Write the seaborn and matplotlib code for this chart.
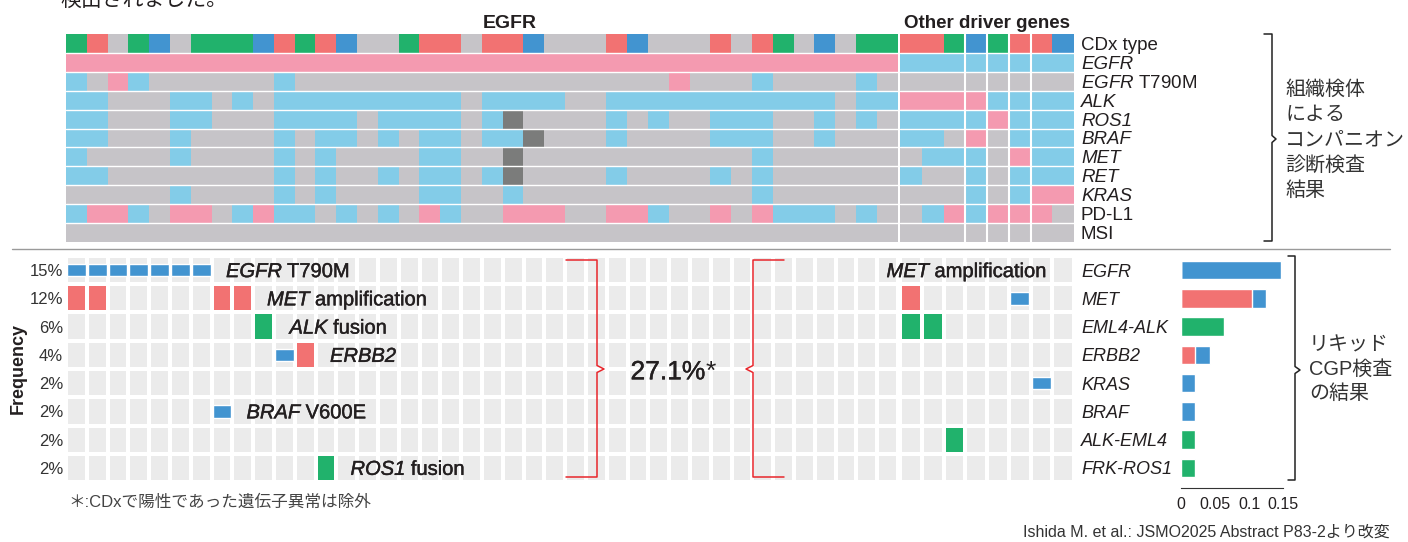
import numpy as np
import pandas as pd
import matplotlib.pyplot as plt
import seaborn as sns
from matplotlib.colors import ListedColormap
from matplotlib.lines import Line2D
import matplotlib.patheffects as pe

# 組織検体によるCDx結果 (1文字 = 1症例)
# G/R/B = CDx type, p = 陽性, b = 陰性, g = 未実施, d = 判定不能
cdx_rows = ['CDx type', 'EGFR', 'EGFR T790M', 'ALK', 'ROS1', 'BRAF',
            'MET', 'RET', 'KRAS', 'PD-L1', 'MSI']
cdx_egfr = [
    'GRgGBgGGGBRGRBggGRRg' + 'RRBgggRBgggRgRGgBgGG',
    'pppppppppppppppppppp' + 'pppppppppppppppppppp',
    'bgpbggggggbggggggggg' + 'gggggggggpgggbggggbg',
    'bbgggbbgbgbbbbbbbbbg' + 'bbbbggbbbbbbbbbbbgbb',
    'bbgggbbgggbbbbgbbbbg' + 'bdggggbgbggbbbggbgbg',
    'bbgggbggggbgbbgbgbbg' + 'bbdgggbggggbbbggbggg',
    'bggggbggggbgbggggbbg' + 'gdgggggggggggbgggggg',
    'bbggggggggbgbggbgbbg' + 'bdggggbggggbgbgggggg',
    'gggggbggggbgbggggbbg' + 'gbgggggggggggbgggggg',
    'bppbgppgbpbbgbgbgpbg' + 'gpppggppbggpgpbbbgbg',
    'gggggggggggggggggggg' + 'gggggggggggggggggggg',
]
cdx_other = ['RRGBGRRB', 'bbbbbbbb', 'gggggggg', 'ppppbbbb', 'bbbbpbbb',
             'bbgpgbbb', 'gbbbgpbb', 'bggbgbbb', 'gggbgbpp', 'gbpbpppg',
             'gggggggg']

# リキッドCGP検査の結果: R = 増幅, G = 融合, B = 変異, . = なし
cgp_genes = ['EGFR', 'MET', 'EML4-ALK', 'ERBB2', 'KRAS', 'BRAF',
             'ALK-EML4', 'FRK-ROS1']
cgp_freq = ['15%', '12%', '6%', '4%', '2%', '2%', '2%', '2%']
cgp_egfr = ['BBBBBBB', 'RR.....RR', '.........G', '..........BR', '',
            '.......B', '', '............G']
cgp_other = ['', 'R....B', 'GG', '', '......B', '', '..G', '']

amp = [0, 0.104, 0, 0.021, 0, 0, 0, 0]
mut = [0.146, 0.021, 0, 0.021, 0.021, 0.021, 0, 0]
fus = [0, 0, 0.063, 0, 0, 0, 0.021, 0.021]

GREEN, RED, BLUE = '#21b26c', '#f27272', '#4294d0'
GRAY, PINK, LBLUE, DGRAY = '#c6c4c8', '#f49ab0', '#83cce8', '#7b7c7b'
BG, TXT = '#ebebeb', '#231f20'

sns.set_style('white')
plt.rcParams['font.family'] = ['Liberation Sans', 'Noto Sans CJK JP']
plt.rcParams['mathtext.fontset'] = 'custom'
plt.rcParams['mathtext.rm'] = 'Liberation Sans'
plt.rcParams['mathtext.it'] = 'Liberation Sans:italic'

W, H = 1408, 542
fig = plt.figure(figsize=(W / 100, H / 100), dpi=100)


def px_axes(x0, y0, x1, y1):
    return fig.add_axes([x0 / W, 1 - y1 / H, (x1 - x0) / W, (y1 - y0) / H])


def px_line(xs, ys, color, lw=1.1):
    fig.add_artist(Line2D([x / W for x in xs], [1 - y / H for y in ys],
                          transform=fig.transFigure, color=color, lw=lw))


def rich_text(x, y, parts, size, color=TXT):
    # 斜体と立体を並べて描く (x, y はピクセル, y はベースライン)
    r = fig.canvas.get_renderer()
    for s, style, thick in parts:
        t = fig.text(x / W, 1 - y / H, s, fontsize=size, fontstyle=style,
                     color=color, ha='left', va='baseline')
        if thick:
            t.set_path_effects([pe.withStroke(linewidth=0.3, foreground=color)])
        x = t.get_window_extent(r).x1


# ---- 上段: CDx ヒートマップ ----
top_code = {'g': 0, 'p': 1, 'b': 2, 'd': 3, 'G': 4, 'R': 5, 'B': 6}
top_cmap = ListedColormap([GRAY, PINK, LBLUE, DGRAY, GREEN, RED, BLUE])

ax_te = px_axes(66, 34, 897.5, 242)
ax_to = px_axes(900, 34, 1074, 242)
for ax, rows in ((ax_te, cdx_egfr), (ax_to, cdx_other)):
    df = pd.DataFrame([[top_code[c] for c in r] for r in rows])
    sns.heatmap(df, cmap=top_cmap, vmin=-0.5, vmax=6.5, cbar=False,
                xticklabels=False, yticklabels=False, ax=ax)
    for y in range(1, len(rows)):
        ax.axhline(y, color='white', lw=1.0)
for x in (3, 4, 5, 6):
    ax_to.axvline(x, color='white', lw=1.5)

ax_to.yaxis.tick_right()
ax_to.set_yticks(np.arange(len(cdx_rows)) + 0.5)
ax_to.set_yticklabels([r'$\mathit{EGFR}$ T790M' if n == 'EGFR T790M' else n
                       for n in cdx_rows], rotation=0, fontsize=13.5, color=TXT)
for t, n in zip(ax_to.get_yticklabels(), cdx_rows):
    if n not in ('CDx type', 'PD-L1', 'MSI', 'EGFR T790M'):
        t.set_fontstyle('italic')
ax_to.tick_params(axis='y', length=0, pad=5)

fig.text(510 / W, 1 - 28.3 / H, 'EGFR', fontsize=14, fontweight='bold',
         color=TXT, ha='center', va='baseline')
fig.text(987 / W, 1 - 28.3 / H, 'Other driver genes', fontsize=13.5,
         fontweight='bold', color=TXT, ha='center', va='baseline')

# ---- 下段: リキッドCGP ----
bot_code = {'.': 0, 'B': 0, 'R': 1, 'G': 2}
bot_cmap = ListedColormap([BG, RED, GREEN])

ax_be = px_axes(66, 256, 898, 482)
ax_bo = px_axes(900, 256, 1074, 482)
for ax, rows, n in ((ax_be, cgp_egfr, 40), (ax_bo, cgp_other, 8)):
    rows = [r.ljust(n, '.') for r in rows]
    df = pd.DataFrame([[bot_code[c] for c in r] for r in rows])
    sns.heatmap(df, cmap=bot_cmap, vmin=-0.5, vmax=2.5, cbar=False,
                linewidths=1.5, linecolor='white',
                xticklabels=False, yticklabels=False, ax=ax)
    xs = [j + 0.5 for r in rows for j, c in enumerate(r) if c == 'B']
    ys = [i + 0.5 for i, r in enumerate(rows) for c in r if c == 'B']
    h = 0.44
    ax.bar(xs, h, bottom=np.array(ys) - h / 2, width=0.9, color=BLUE, zorder=3)

ax_be.set_yticks(np.arange(len(cgp_freq)) + 0.5)
ax_be.set_yticklabels(cgp_freq, rotation=0, fontsize=12, color='#333333')
ax_be.tick_params(axis='y', length=0, pad=2)
fig.text(18 / W, 1 - 369 / H, 'Frequency', rotation=90, fontsize=13,
         fontweight='bold', color=TXT, ha='center', va='center')

# 棒グラフ
ax_bar = px_axes(1181, 256, 1181 + 0.16 * 682, 482)
sns.barplot(x=np.add(amp, mut), y=cgp_genes, color=BLUE, saturation=1,
            width=0.65, errorbar=None, ax=ax_bar)
sns.barplot(x=amp, y=cgp_genes, color=RED, saturation=1,
            width=0.65, errorbar=None, ax=ax_bar)
sns.barplot(x=fus, y=cgp_genes, color=GREEN, saturation=1,
            width=0.65, errorbar=None, ax=ax_bar)
ax_bar.set_xlim(0, 0.16)
ax_bar.set_ylim(7.5, -0.5)
ax_bar.set_xlabel('')
ax_bar.set_ylabel('')
sns.despine(ax=ax_bar, left=True)
ax_bar.spines['bottom'].set_bounds(0, 0.15)
ax_bar.spines['bottom'].set_position(('outward', 4.5))
ax_bar.spines['bottom'].set_color('#333333')
ax_bar.spines['bottom'].set_linewidth(0.8)
ax_bar.set_xticks([0, 0.05, 0.1, 0.15])
ax_bar.set_xticklabels(['0', '0.05', '0.1', '0.15'])
ax_bar.tick_params(axis='x', length=3.6, width=0.8, color='#333333',
                   labelsize=11.5, pad=3, labelcolor=TXT)
ax_bar.tick_params(axis='y', length=0, pad=72)
for t in ax_bar.get_yticklabels():
    t.set_ha('left')
    t.set_fontstyle('italic')
    t.set_fontsize(13)
    t.set_color(TXT)

# 注釈
row_y = [256 + 14.1 + 28.25 * i for i in range(8)]
for x, i, it, rest in [(226, 0, 'EGFR', ' T790M'), (267, 1, 'MET', ' amplification'),
                       (289.5, 2, 'ALK', ' fusion'), (330, 3, 'ERBB2', ''),
                       (246.5, 5, 'BRAF', ' V600E'), (350.5, 7, 'ROS1', ' fusion'),
                       (886.5, 0, 'MET', ' amplification')]:
    rich_text(x, row_y[i] + 7, [(it, 'italic', True), (rest, 'normal', True)], 14.5)
rich_text(630.5, 379.3, [('27.1%', 'normal', True), ('*', 'normal', False)], 19)

# 括弧
RB = '#e8262c'
px_line([566, 597, 597, 604, 597, 597, 566], [260, 260, 365.5, 369, 372.5, 477, 477], RB)
px_line([784, 753, 753, 746, 753, 753, 784], [260, 260, 365.5, 369, 372.5, 477, 477], RB)
px_line([1264, 1272, 1272, 1276, 1272, 1272, 1264], [34, 34, 135.5, 139, 142.5, 241, 241], '#222222')
px_line([1288, 1295, 1295, 1300, 1295, 1295, 1288], [256, 256, 366.5, 370, 373.5, 480, 480], '#222222')
px_line([12, 1390], [248.5, 248.5], '#9a9a9a', lw=1.0)

fig.text(1285 / W, 1 - 140 / H, '組織検体\nによる\nコンパニオン\n診断検査\n結果',
         fontsize=14.4, color='#333333', ha='left', va='center', linespacing=1.42)
fig.text(1309 / W, 1 - 369 / H, 'リキッド\nCGP検査\nの結果',
         fontsize=14.4, color='#333333', ha='left', va='center', linespacing=1.35)

fig.text(60 / W, 1 - 6 / H, '検出されました。', fontsize=15, color=TXT,
         ha='left', va='baseline')
fig.text(68 / W, 1 - 502 / H, '＊:CDxで陽性であった遺伝子異常は除外', fontsize=12,
         color='#444444', ha='left', va='center')
fig.text(1390 / W, 1 - 532 / H, 'Ishida M. et al.: JSMO2025 Abstract P83-2より改変',
         fontsize=11.5, color='#333333', ha='right', va='center')

fig.savefig('out.png', dpi=100)
